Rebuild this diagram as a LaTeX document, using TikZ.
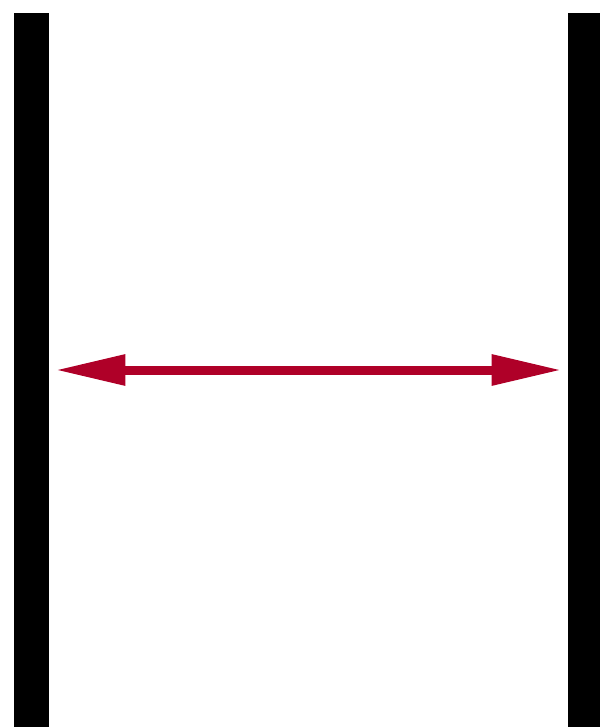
\documentclass[tikz,border=0pt]{standalone}
\usepackage{tikz}
\usetikzlibrary{arrows.meta}
\definecolor{crimson}{RGB}{175,0,40}

\begin{document}
\begin{tikzpicture}[
    x=0.75pt,y=-0.75pt,
    wall/.style={rectangle,fill=black,inner sep=0pt,minimum height=535.5pt},
    biarrow/.style={{Triangle[length=52.5pt,width=21.75pt]}-{Triangle[length=52.5pt,width=21.75pt]},
                    line width=6.75pt,draw=crimson,fill=crimson,shorten <=4.5pt,shorten >=4.5pt}
]
\useasboundingbox (0,0) rectangle (600,727);

\node[wall,minimum width=26.25pt] (lwall) at (31.5,370) {};
\node[wall,minimum width=24pt]    (rwall) at (584,370) {};

\draw[biarrow] (lwall.east) -- (rwall.west);
\end{tikzpicture}
\end{document}
